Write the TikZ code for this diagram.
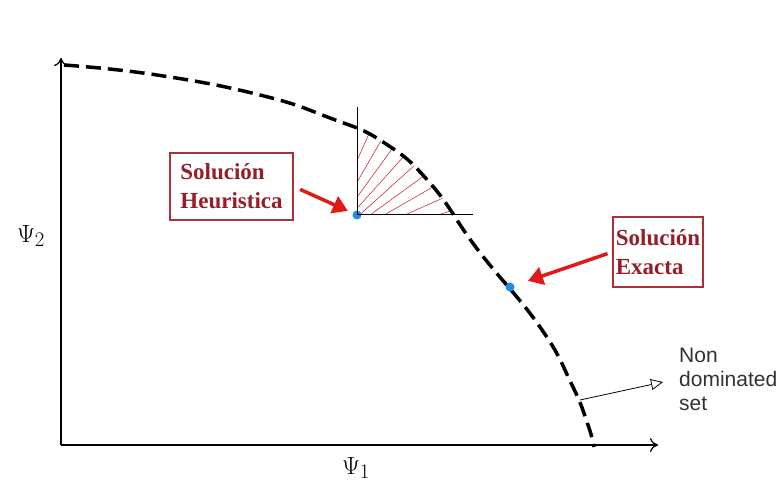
\documentclass[tikz,border=0pt]{standalone}
\usepackage{fontspec}
\setmainfont{Liberation Serif}
\newfontfamily\arialfont{Liberation Sans}
\usetikzlibrary{arrows.meta}

\definecolor{boxred}{RGB}{170,50,55}
\definecolor{txtred}{RGB}{150,30,40}
\definecolor{arrred}{RGB}{225,25,25}
\definecolor{hatchred}{RGB}{195,55,60}
\definecolor{dotblue}{RGB}{30,140,235}
\definecolor{txtgray}{RGB}{50,50,50}

\tikzset{
  solbox/.style={draw=boxred, line width=1.5pt, text=txtred, align=left,
    font=\fontsize{23}{29}\selectfont\bfseries, inner sep=0pt},
  solarrow/.style={draw=arrred, line width=3.5pt,
    -{Triangle[length=15pt,width=18pt]}},
  soldot/.style={circle, fill=dotblue, inner sep=0pt, minimum size=9pt},
  frontier/.style={line width=3.5pt, dash pattern=on 15pt off 7pt},
}

\begin{document}
\begin{tikzpicture}[x=1pt, y=-1pt, >={To[length=8pt,width=14pt]}]
        \useasboundingbox (0,0) rectangle (784,494);
        % ==== AXES ====
        \coordinate (O) at (61,445);
        \coordinate (ytop) at (61,58);
        \coordinate (xend) at (658,445);
        \draw[->, line width=1.2pt] (O) -- (ytop);
        \draw[->, line width=1.2pt] (O) -- (xend);
        \node (psitwo) at (31,236) {\fontsize{28}{28}\selectfont $\Psi_2$};
        \node (psione) at (356,468) {\fontsize{28}{28}\selectfont $\Psi_1$};

        % ==== HATCHED REGION ====
        \begin{scope}
            \clip plot[smooth, tension=0.8] coordinates {(64,65) (157,75) (260,95) (330,118) (383,142) (430,183) (478,250) (540,327) (572,385) (588,425) (594,447)} -- (61,445) -- cycle;
            \clip (357,100) rectangle (472,215);
            \foreach \a in {12,18,...,72}
                \draw[hatchred, line width=0.6pt] (315,255) -- ++(-\a:260);
        \end{scope}
        \coordinate (vtop) at (357,107);
        \coordinate (hend) at (473,215);

        % ==== NON DOMINATED FRONTIER ====
        \draw[frontier] plot[smooth, tension=0.8] coordinates {(64,65) (157,75) (260,95) (330,118) (383,142) (430,183) (478,250) (540,327) (572,385) (588,425) (594,447)};

        % ==== SOLUTIONS ====
        \node[soldot] (heurdot) at (357,215) {};
        \node[soldot] (exactdot) at (510,287) {};
        \draw[line width=1pt] (heurdot.center) -- (vtop);
        \draw[line width=1pt] (heurdot.center) -- (hend);

        \node[solbox, minimum width=123pt, minimum height=67pt] (heurbox) at (231.5,186.5) {Solución\\Heuristica};
        \node[solbox, minimum width=90pt, minimum height=70pt] (exactbox) at (658,252) {Solución\\Exacta};
        \draw[solarrow, shorten <=7pt, shorten >=10pt] (heurbox.east) -- (heurdot.center);
        \draw[solarrow, shorten <=5pt, shorten >=19pt] (exactbox.west) -- (exactdot.center);

        % ==== LABEL ====
        \coordinate (ndfoot) at (580,400);
        \coordinate (ndtip) at (663,382);
        \node[font=\arialfont\fontsize{21}{24}\selectfont, text=txtgray, align=left,
              anchor=north west, inner sep=0pt] (ndset) at (679,348) {Non\\dominated\\set};
        \draw[line width=0.8pt, -{Triangle[open,length=12pt,width=11pt]}] (ndfoot) -- (ndtip);
     \end{tikzpicture}
\end{document}
